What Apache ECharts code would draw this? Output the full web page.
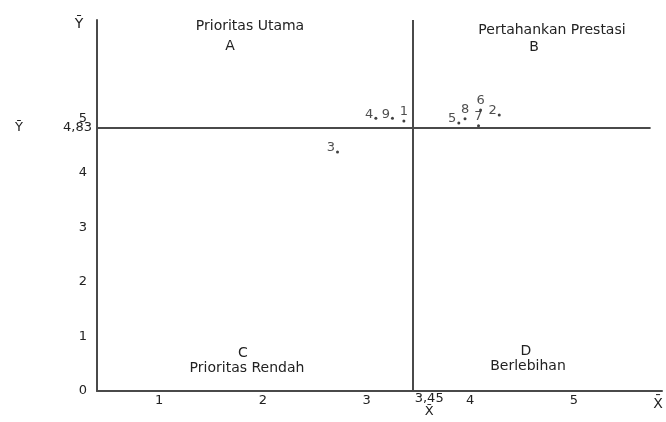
<!DOCTYPE html>
<html>
<head>
<meta charset="utf-8">
<script src="https://cdn.jsdelivr.net/npm/echarts@6/dist/echarts.min.js"></script>
<style>html,body{margin:0;padding:0;background:#fff}#c{width:666px;height:422px}</style>
</head>
<body>
<div id="c"></div>
<script>
// ---- data ----
var itemLabels = ["1", "2", "3", "4", "5", "6", "7", "8", "9"];
var xValues = [3.36, 4.28, 2.72, 3.09, 3.89, 4.10, 4.08, 3.95, 3.25];
var yValues = [4.95, 5.06, 4.38, 5.00, 4.91, 5.15, 4.86, 4.99, 5.00];
var xTicks = [1, 2, 3, 4, 5];
var yTicks = [0, 1, 2, 3, 4, 5];
var meanX = 3.45;
var meanY = 4.83;
var meanXLabel = "3,45";
var meanYLabel = "4,83";
var quadrantTitles = ["Prioritas Utama", "Pertahankan Prestasi", "Prioritas Rendah", "Berlebihan"];
var quadrantLetters = ["A", "B", "C", "D"];

// ---- styles / layout ----
var FONT = "DejaVu Sans";
var LINE = "#4a4a4a";
var TXT = "#222";
var X_MIN = 0.4, X_MAX = 5.85, Y_MIN = 0, Y_MAX = 6.8;
var labelPlacement = {"1": "top", "6": "top", "7": "top", "8": "top"};

var points = itemLabels.map(function (n, i) {
  var pos = labelPlacement[n] || "left";
  return {
    name: n,
    value: [xValues[i], yValues[i]],
    label: {position: pos, distance: 1, offset: pos === "left" ? [0, -4] : [0, 0]}
  };
});

function txt(s, x, y, size) {
  return {type: "text", x: x, y: y, style: {text: s, fill: TXT, font: (size || 12) + "px '" + FONT + "'", align: "center", verticalAlign: "middle"}};
}

var chart = echarts.init(document.getElementById("c"), null, {renderer: "canvas"});
chart.setOption({
  animation: false,
  backgroundColor: "#fff",
  grid: {left: 97, right: 4, top: 20, bottom: 31},
  xAxis: {
    type: "value", min: X_MIN, max: X_MAX,
    axisLine: {show: true, onZero: false, lineStyle: {color: LINE, width: 2}},
    axisTick: {show: false},
    splitLine: {show: false},
    axisLabel: {customValues: xTicks, color: TXT, fontFamily: FONT, fontSize: 13, margin: 3}
  },
  yAxis: {
    type: "value", min: Y_MIN, max: Y_MAX,
    axisLine: {show: true, onZero: false, lineStyle: {color: LINE, width: 2}},
    axisTick: {show: false},
    splitLine: {show: false},
    axisLabel: {customValues: yTicks, color: TXT, fontFamily: FONT, fontSize: 13, margin: 10}
  },
  series: [{
    type: "scatter",
    clip: false,
    symbolSize: 3,
    itemStyle: {color: "#111"},
    label: {show: true, formatter: "{b}", color: TXT, fontFamily: FONT, fontSize: 13},
    data: points,
    markLine: {
      silent: true,
      symbol: "none",
      animation: false,
      lineStyle: {color: LINE, width: 2, type: "solid"},
      data: [
        [{name: "mx", coord: [meanX, Y_MIN], label: {offset: [16, -4]}}, {coord: [meanX, Y_MAX]}],
        [{name: "my", coord: [X_MIN, meanY]}, {coord: [5.74, meanY]}]
      ],
      label: {
        show: true,
        position: "start",
        color: TXT, fontFamily: FONT, fontSize: 13,
        formatter: function (p) {
          if (p.name === "mx") return "{v|" + meanXLabel + "}\n{c|X\u0304}";
          return "{bar|\u0232}{v|" + meanYLabel + "}";
        },
        rich: {
          bar: {fontFamily: FONT, fontSize: 13, color: TXT, width: 48, align: "left"},
          c: {fontFamily: FONT, fontSize: 13, color: TXT, align: "center"},
          v: {fontFamily: FONT, fontSize: 13, color: TXT}
        }
      }
    }
  }],
  graphic: [
    txt(quadrantTitles[0], 250, 26, 14), txt(quadrantLetters[0], 230, 46, 14),
    txt(quadrantTitles[1], 552, 30, 14), txt(quadrantLetters[1], 534, 47, 14),
    txt(quadrantLetters[2], 243, 353, 14), txt(quadrantTitles[2], 247, 368, 14),
    txt(quadrantLetters[3], 526, 351, 14), txt(quadrantTitles[3], 528, 366, 14),
    txt("\u0232", 79, 24, 14), txt("X\u0304", 658, 404, 14)
  ]
});
</script>
</body>
</html>
